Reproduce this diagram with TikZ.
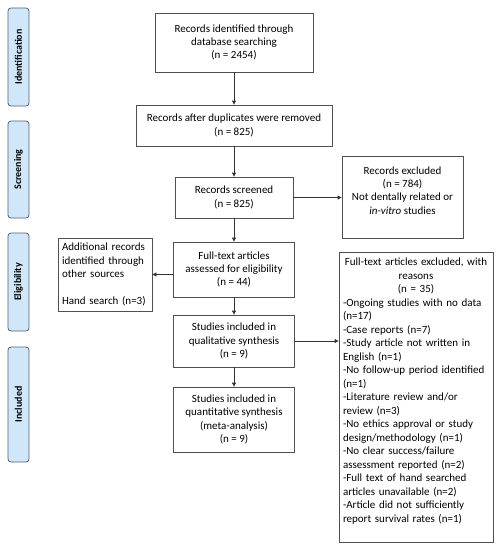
\documentclass[tikz,border=0pt]{standalone}
\usepackage{fontspec}
\setmainfont{Carlito}
\usetikzlibrary{arrows.meta}
\definecolor{phasefill}{HTML}{CFE7F8}
\definecolor{phaseline}{HTML}{55606B}
\definecolor{boxline}{HTML}{505050}
\definecolor{arrcol}{HTML}{333333}
\begin{document}
\begin{tikzpicture}[x=1pt,y=-1pt,
  phase/.style={draw=phaseline,fill=phasefill,rounded corners=3pt,line width=0.8pt,
    minimum width=21pt,inner sep=0pt},
  phasetext/.style={rotate=90,font=\fontsize{10}{12}\selectfont\bfseries},
  box/.style={draw=boxline,line width=0.8pt,align=center,inner sep=2pt,
    font=\fontsize{11}{13.4}\selectfont},
  lbox/.style={box,align=left},
  arr/.style={draw=arrcol,line width=0.8pt,-{Triangle[length=4pt,width=4pt]}}]
\useasboundingbox (0,0) rectangle (500,550);
% phase labels
\node[phase,minimum height=98pt] (pid) at (18.5,57) {};
\node[phasetext] (tid) at (pid.center) {Identification};
\node[phase,minimum height=97pt] (psc) at (18.5,169.5) {};
\node[phasetext] (tsc) at (psc.center) {Screening};
\node[phase,minimum height=98pt] (pel) at (18.5,282) {};
\node[phasetext] (tel) at (pel.center) {Eligibility};
\node[phase,minimum height=115pt] (pin) at (18.5,404.5) {};
\node[phasetext] (tin) at (pin.center) {Included};
% main boxes
\node[box,minimum width=158pt,minimum height=59pt] (b1) at (234,42.5)
  {Records identified through\\database searching\\(n = 2454)};
\node[box,minimum width=196pt,minimum height=41pt] (b2) at (234,125.5)
  {Records after duplicates were removed\\(n = 825)};
\node[box,minimum width=118pt,minimum height=41pt] (b3) at (234,197.5)
  {Records screened\\(n = 825)};
\node[box,minimum width=121pt,minimum height=82pt] (exc) at (402.5,197)
  {Records excluded\\(n = 784)\\Not dentally related or\\\textit{in-vitro} studies\\\mbox{}};
\node[box,minimum width=121pt,minimum height=55pt] (b4) at (234,269.5)
  {Full-text articles\\assessed for eligibility\\(n = 44)};
\node[lbox,minimum width=94pt,minimum height=73pt,text width=86pt] (add) at (105,274.5)
  {Additional records\\identified through\\other sources\\[13.4pt]Hand search (n=3)};
\node[box,minimum width=121pt,minimum height=52pt] (b5) at (234,341)
  {Studies included in\\qualitative synthesis\\(n = 9)};
\node[box,minimum width=121pt,minimum height=65pt] (b6) at (234,419.5)
  {Studies included in\\quantitative synthesis\\(meta-analysis)\\(n = 9)};
\node[lbox,minimum width=154pt,minimum height=290pt,text width=146pt,
  font=\fontsize{11}{13.5}\selectfont] (ft) at (416,397)
  {\centering Full-text articles excluded, with\\reasons\\(n = 35)\par
   \raggedright -Ongoing studies with no data\\(n=17)\\-Case reports (n=7)\\-Study article not written in\\English (n=1)\\-No follow-up period identified\\(n=1)\\-Literature review and/or\\review (n=3)\\-No ethics approval or study\\design/methodology (n=1)\\-No clear success/failure\\assessment reported (n=2)\\-Full text of hand searched\\articles unavailable (n=2)\\-Article did not sufficiently\\report survival rates (n=1)\\\mbox{}};
% arrows
\draw[arr] (b1) -- (b2);
\draw[arr] (b2) -- (b3);
\draw[arr] (b3) -- (b4);
\draw[arr] (b4) -- (b5);
\draw[arr] (b5) -- (b6);
\draw[arr] (b3.east) -- (b3.east -| exc.west);
\draw[arr] (b4.west |- add.east) -- (add.east);
\draw[arr] (b5.east) -- (b5.east -| ft.west);
\end{tikzpicture}
\end{document}
